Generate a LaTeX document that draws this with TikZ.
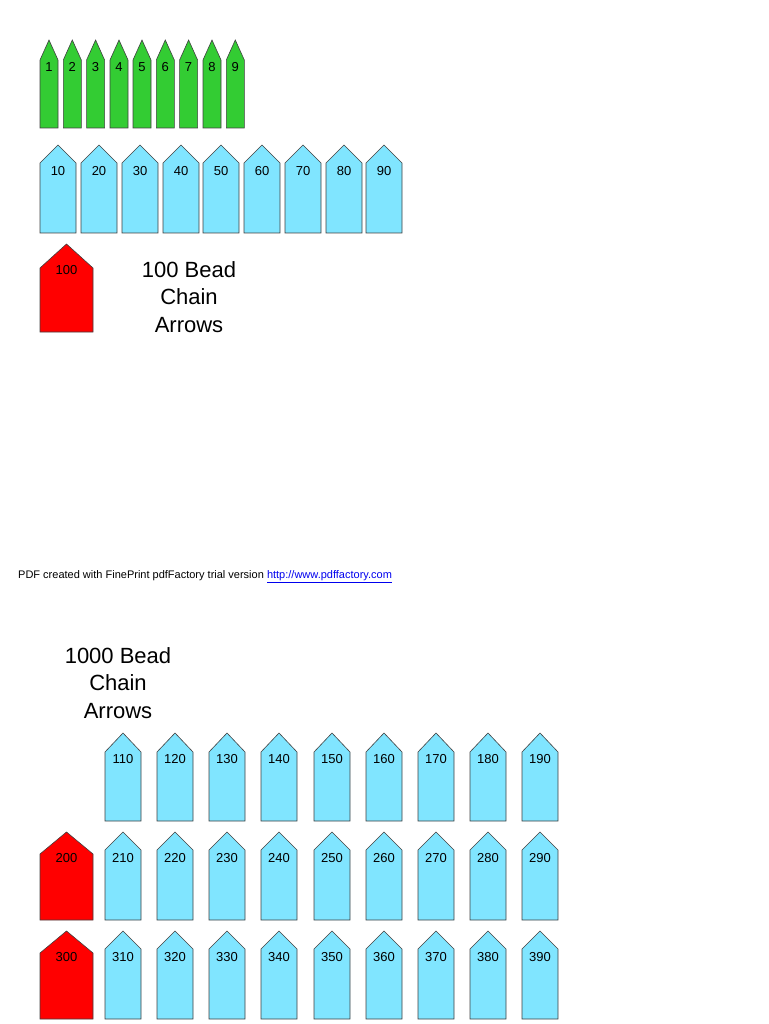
\documentclass[tikz,border=0pt]{standalone}
\usepackage{fontspec}
\setmainfont{Liberation Sans}
\definecolor{grn}{HTML}{33CC33}
\definecolor{blu}{HTML}{80E5FF}
\definecolor{rd}{HTML}{FF0000}
\definecolor{lnk}{HTML}{0000EE}
\begin{document}
\begin{tikzpicture}[x=1pt,y=-1pt,
  shp/.style={draw=black!75,line width=0.6pt},
  lab/.style={inner sep=0pt,font=\fontsize{13}{13}\selectfont},
  title/.style={align=center,font=\fontsize{22}{27.5}\selectfont}]
\useasboundingbox (0,0) rectangle (768,1024);
% arrow macro: #1 left, #2 width, #3 tip y, #4 shoulder y, #5 bottom y, #6 fill, #7 label, #8 label y, #9 name
\newcommand\arw[9]{%
  \draw[shp,fill=#6] (#1,#5) -- (#1,#4) -- ({#1+#2/2},#3) -- ({#1+#2},#4) -- ({#1+#2},#5) -- cycle;
  \node[lab] (#9) at ({#1+#2/2},#8) {#7};}
\foreach \i/\x in {1/40,2/63.3,3/86.6,4/110,5/133,6/156.3,7/179.6,8/203,9/226.3}
  {\arw{\x}{18}{40}{60}{128}{grn}{\i}{67}{g\i}}
\foreach \i/\x in {10/40,20/81,30/122,40/163,50/203,60/244,70/285,80/326,90/366}
  {\arw{\x}{36}{145}{163}{233}{blu}{\i}{171}{b\i}}
\arw{40}{53}{244}{268}{332}{rd}{100}{270}{r100}
\node[title] (t1) at (189,297) {100 Bead\\Chain\\Arrows};
\node[font=\fontsize{11}{11}\selectfont,anchor=west,inner sep=0pt] (foot) at (18,577)
  {PDF created with FinePrint pdfFactory trial version \textcolor{lnk}{\underline{http://www.pdffactory.com}}};
\node[title] (t2) at (118,683) {1000 Bead\\Chain\\Arrows};
\foreach \j/\x in {1/105,2/157,3/209,4/261,5/314,6/366,7/418,8/470,9/522}{
  \arw{\x}{36}{733}{752}{821}{blu}{1\j0}{759}{c1\j}
  \arw{\x}{36}{832}{850}{920}{blu}{2\j0}{858}{c2\j}
  \arw{\x}{36}{931}{949}{1019}{blu}{3\j0}{957}{c3\j}}
\arw{40}{53}{832}{854}{920}{rd}{200}{858}{r200}
\arw{40}{53}{931}{953}{1019}{rd}{300}{957}{r300}
\end{tikzpicture}
\end{document}
